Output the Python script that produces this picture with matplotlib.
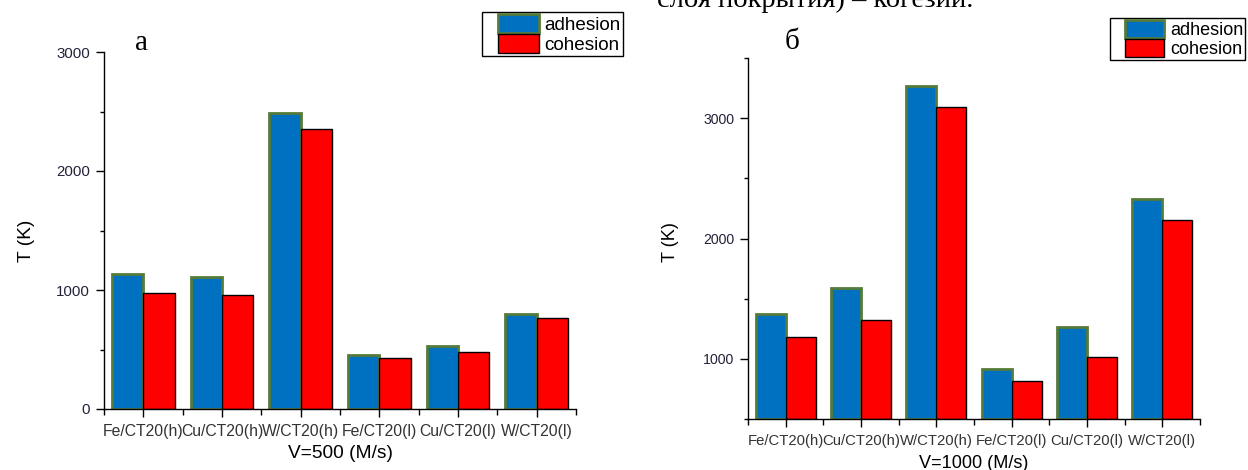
"""
Adhesion / cohesion temperature bars for two impact velocities.
"""

# ----------------------- standard imports ---------------------------------- #
import numpy as np

import matplotlib
matplotlib.use("Agg")
import matplotlib.pyplot as plt
from matplotlib.patches import Patch, Rectangle
from matplotlib.legend_handler import HandlerPatch
from matplotlib.ticker import MultipleLocator, FixedLocator

#-----------------------------------------------------------------------------#
# data

categories = ["Fe/CT20(h)", "Cu/CT20(h)", "W/CT20(h)",
              "Fe/CT20(l)", "Cu/CT20(l)", "W/CT20(l)"]
series_labels = ["adhesion", "cohesion"]

# panel a: V = 500 m/s
adhesion_500 = [1135, 1110, 2487, 454, 529, 798]
cohesion_500 = [975, 958, 2353, 429, 479, 765]

# panel b: V = 1000 m/s
adhesion_1000 = [1375, 1592, 3267, 917, 1267, 2330]
cohesion_1000 = [1183, 1325, 3092, 817, 1017, 2150]

#-----------------------------------------------------------------------------#

BLUE = "#0070c0"
RED = "#ff0000"
GREEN = "#557b3a"

plt.rcParams['font.family'] = ['Liberation Sans', 'DejaVu Sans']

W_PX, H_PX = 1248, 470

#-----------------------------------------------------------------------------#

def legend_key(legend, orig_handle, xdescent, ydescent, width, height, fontsize):
    """
    Legend key with a blank strip on its left, like Origin draws it
    """
    return Rectangle((-xdescent + 0.25 * width, -ydescent), 0.75 * width, height)

#-----------------------------------------------------------------------------#

def draw_panel(ax, adhesion, cohesion, ylim, xlabel, tick_fs, label_fs):
    """
    Two bars per category, bars start at the bottom of the axis (Origin style)
    """
    x = np.arange(len(categories))
    base = ylim[0]
    w = 0.4

    ax.bar(x - w, np.array(adhesion) - base, bottom=base, width=w, align='edge',
           color=BLUE, edgecolor=GREEN, linewidth=2, zorder=2)
    ax.bar(x, np.array(cohesion) - base, bottom=base, width=w, align='edge',
           color=RED, edgecolor='black', linewidth=1, zorder=2)

    ax.set_xlim(-0.5, len(categories) - 0.5)
    ax.set_ylim(*ylim)

    # axes look
    for side in ['top', 'right']:
        ax.spines[side].set_visible(False)
    for side in ['left', 'bottom']:
        ax.spines[side].set_linewidth(1)

    ax.set_xticks(x)
    ax.set_xticklabels(categories)
    ax.xaxis.set_minor_locator(FixedLocator(np.arange(-0.5, len(categories), 1.0)))
    ax.yaxis.set_major_locator(MultipleLocator(1000))
    ax.yaxis.set_minor_locator(MultipleLocator(500))

    ax.tick_params(axis='x', which='major', direction='out', length=6, width=1,
                   pad=5, labelsize=tick_fs, labelcolor='#333333')
    ax.tick_params(axis='x', which='minor', direction='out', length=4, width=1)
    ax.tick_params(axis='y', which='major', direction='out', length=6, width=1,
                   pad=4, labelsize=tick_fs - 0.5, labelcolor='#22223a')
    ax.tick_params(axis='y', which='minor', direction='out', length=3, width=1)

    ax.set_xlabel(xlabel, fontsize=label_fs)
    ax.set_ylabel("T (K)", fontsize=label_fs)

#-----------------------------------------------------------------------------#

fig = plt.figure(figsize=(W_PX / 100, H_PX / 100), dpi=100)

# axes placed in pixels of the original picture
ax_a = fig.add_axes([104 / W_PX, 61 / H_PX, 472 / W_PX, 357 / H_PX])
ax_b = fig.add_axes([748 / W_PX, 51 / H_PX, 452 / W_PX, 361 / H_PX])

draw_panel(ax_a, adhesion_500, cohesion_500, (0, 3000), "V=500 (M/s)", 11.3, 13.8)
draw_panel(ax_b, adhesion_1000, cohesion_1000, (500, 3500), "V=1000 (M/s)", 10.7, 13.1)

ax_a.xaxis.set_label_coords(0.5, -0.10)
ax_b.xaxis.set_label_coords(0.5, -0.10)
ax_a.yaxis.set_label_coords(-0.146, 0.47)
ax_b.yaxis.set_label_coords(-0.153, 0.49)

# legends
handles = [Patch(facecolor=BLUE, edgecolor=GREEN, linewidth=2),
           Patch(facecolor=RED, edgecolor='black', linewidth=1)]

for ax, anchor, fs in [(ax_a, (482 / W_PX, 1 - 12 / H_PX), 13.6),
                       (ax_b, (1110 / W_PX, 1 - 18 / H_PX), 13.0)]:
    leg = ax.legend(handles, series_labels, loc='upper left',
                    bbox_to_anchor=anchor, bbox_transform=fig.transFigure,
                    borderaxespad=0, fontsize=fs, handlelength=2.9,
                    handleheight=1.17, handletextpad=0.32, labelspacing=0,
                    borderpad=0.1, fancybox=False, framealpha=1,
                    handler_map={Patch: HandlerPatch(patch_func=legend_key)})
    leg.get_frame().set_edgecolor('black')
    leg.get_frame().set_linewidth(1)

# panel letters and the clipped line of document text above
fig.text(142 / W_PX, 1 - 43 / H_PX, "а", family='Liberation Serif',
         fontsize=21, ha='center', va='center')
fig.text(792 / W_PX, 1 - 42 / H_PX, "б", family='Liberation Serif',
         fontsize=21, ha='center', va='center')
fig.text(657 / W_PX, 1 - 7 / H_PX, "слоя покрытия) – когезии.",
         family='Liberation Serif', fontsize=20.5, ha='left', va='baseline')

fig.savefig("out.png", dpi=100)
